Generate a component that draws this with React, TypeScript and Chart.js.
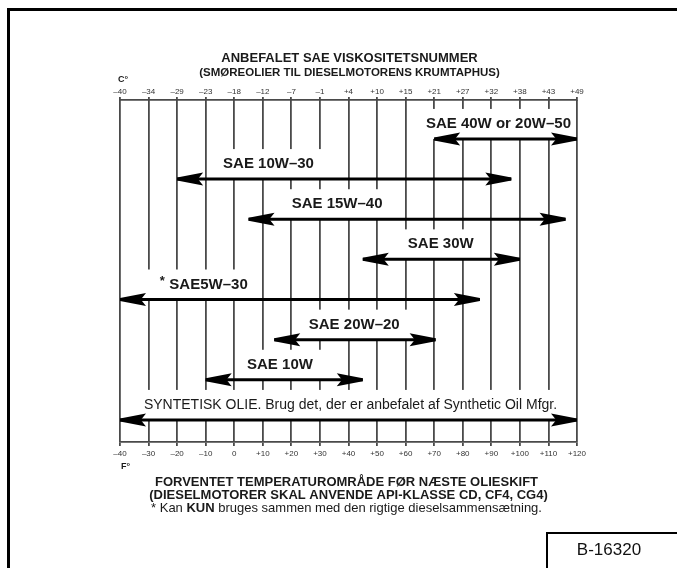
import React, { useEffect, useRef } from "react";
import { Chart, registerables } from "chart.js";

Chart.register(...registerables);

// Tick labels (bottom: °F, top: °C)
const fahrenheitTicks = ["–40", "–30", "–20", "–10", "0", "+10", "+20", "+30", "+40", "+50", "+60", "+70", "+80", "+90", "+100", "+110", "+120"];
const celsiusTicks = ["–40", "–34", "–29", "–23", "–18", "–12", "–7", "–1", "+4", "+10", "+15", "+21", "+27", "+32", "+38", "+43", "+49"];

// Oil grades and their temperature ranges (°F)
const oilNames = [
  "SAE 40W or 20W–50",
  "SAE 10W–30",
  "SAE 15W–40",
  "SAE 30W",
  "* SAE5W–30",
  "SAE 20W–20",
  "SAE 10W",
  "SYNTETISK OLIE. Brug det, der er anbefalet af Synthetic Oil Mfgr.",
];
const rangeFrom = [70, -20, 5, 45, -40, 14, -10, -40];
const rangeTo = [120, 97, 116, 100, 86, 70.5, 45, 120];
// Where each grade's caption is centred (°F)
const labelAt = [92.5, 12, 36, 72.3, -9, 42, 16, 40.7];

const titleLines = ["ANBEFALET SAE VISKOSITETSNUMMER", "(SMØREOLIER TIL DIESELMOTORENS KRUMTAPHUS)"];
const footerLines = ["FORVENTET TEMPERATUROMRÅDE FØR NÆSTE OLIESKIFT", "(DIESELMOTORER SKAL ANVENDE API-KLASSE CD, CF4, CG4)"];
const noteParts = ["* Kan ", "KUN", " bruges sammen med den rigtige dieselsammensætning."];
const figureId = "B-16320";

const FONT = '"Liberation Sans", Arial, sans-serif';

const saePlugin = {
  id: "saeChart",
  beforeDatasetsDraw(chart: any) {
    const { ctx, chartArea: a, scales } = chart;
    const xs = scales.x;
    const ys = scales.y;
    ctx.save();
    oilNames.forEach((name, i) => {
      const synth = i === oilNames.length - 1;
      const starred = name.startsWith("*");
      const text = starred ? name.slice(1).trim() : name;
      ctx.font = synth ? `14px ${FONT}` : `bold 15px ${FONT}`;
      const w = ctx.measureText(text).width;
      const cx = xs.getPixelForValue(labelAt[i]);
      const ay = ys.getPixelForValue(i + 1);
      const cy = ay - 15;
      let l = cx - w / 2 - 12 - (starred ? 10 : 0);
      let r = cx + w / 2 + 10;
      l = Math.max(l, a.left + 2);
      r = Math.min(r, a.right - 2);
      const t = Math.max(cy - 15, a.top + 2);
      ctx.fillStyle = "#fff";
      ctx.fillRect(l, t, r - l, ay - t);
      ctx.fillStyle = "#1a1a1a";
      ctx.textAlign = "center";
      ctx.textBaseline = "middle";
      ctx.fillText(text, cx, cy);
      if (starred) {
        ctx.font = `bold 13px ${FONT}`;
        ctx.fillText("*", cx - w / 2 - 7, cy - 3);
      }
    });
    ctx.restore();
  },
  afterDatasetsDraw(chart: any) {
    const { ctx } = chart;
    ctx.save();
    ctx.fillStyle = "#000";
    const head = (tip: number, y: number, dir: number) => {
      const L = 26;
      const H = 6.5;
      ctx.beginPath();
      ctx.moveTo(tip, y - 1.5);
      ctx.lineTo(tip + dir * L, y - H);
      ctx.lineTo(tip + dir * L * 0.8, y);
      ctx.lineTo(tip + dir * L, y + H);
      ctx.lineTo(tip, y + 1.5);
      ctx.closePath();
      ctx.fill();
    };
    oilNames.forEach((_, i) => {
      const meta = chart.getDatasetMeta(i);
      const p0 = meta.data[0];
      const p1 = meta.data[1];
      head(p0.x, p0.y, 1);
      head(p1.x, p1.y, -1);
    });
    ctx.restore();
  },
  afterDraw(chart: any) {
    const { ctx, chartArea: a } = chart;
    ctx.save();
    // outer frame
    ctx.strokeStyle = "#000";
    ctx.lineWidth = 3;
    ctx.beginPath();
    ctx.moveTo(8.5, 568);
    ctx.lineTo(8.5, 9.5);
    ctx.lineTo(677, 9.5);
    ctx.stroke();
    // figure id box
    ctx.lineWidth = 2;
    ctx.beginPath();
    ctx.moveTo(547, 568);
    ctx.lineTo(547, 533);
    ctx.lineTo(677, 533);
    ctx.stroke();
    ctx.fillStyle = "#111";
    ctx.textAlign = "center";
    ctx.textBaseline = "middle";
    ctx.font = `17px ${FONT}`;
    ctx.fillText(figureId, 609, 550);

    const mid = (a.left + a.right) / 2;
    ctx.fillStyle = "#1a1a1a";
    ctx.font = `bold 13px ${FONT}`;
    ctx.fillText(titleLines[0], mid + 1, 58);
    ctx.font = `bold 11.5px ${FONT}`;
    ctx.fillText(titleLines[1], mid + 1, 73);

    ctx.font = `bold 9px ${FONT}`;
    ctx.textAlign = "left";
    ctx.fillText("C°", a.left - 2, 80);
    ctx.fillText("F°", a.left + 1, 467);

    ctx.textAlign = "center";
    ctx.font = `bold 13px ${FONT}`;
    ctx.fillText(footerLines[0], mid - 2, 482);
    ctx.fillText(footerLines[1], mid, 495);

    // note line with bold "KUN"
    const fonts = [`13px ${FONT}`, `bold 13px ${FONT}`, `13px ${FONT}`];
    let total = 0;
    const widths = noteParts.map((p, k) => {
      ctx.font = fonts[k];
      const w = ctx.measureText(p).width;
      total += w;
      return w;
    });
    let x = mid - 2 - total / 2;
    ctx.textAlign = "left";
    noteParts.forEach((p, k) => {
      ctx.font = fonts[k];
      ctx.fillText(p, x, 508);
      x += widths[k];
    });
    ctx.restore();
  },
};

export default function App() {
  const ref = useRef<HTMLCanvasElement | null>(null);

  useEffect(() => {
    if (!ref.current) return;
    const datasets = oilNames.map((name, i) => ({
      label: name,
      data: [
        { x: rangeFrom[i], y: i + 1 },
        { x: rangeTo[i], y: i + 1 },
      ],
      borderColor: "#000",
      borderWidth: 3,
      pointRadius: 0,
      borderCapStyle: "butt" as const,
      xAxisID: "x",
      yAxisID: "y",
    }));
    const gridColor = "#4a4a4a";
    const chart = new Chart(ref.current, {
      type: "line",
      data: { datasets },
      options: {
        responsive: false,
        animation: false,
        events: [],
        layout: { padding: { left: 120, right: 100, top: 88, bottom: 112 } },
        plugins: { legend: { display: false }, tooltip: { enabled: false }, title: { display: false } },
        scales: {
          x: {
            type: "linear",
            position: "bottom",
            min: -40,
            max: 120,
            afterFit: (s: any) => {
              s.height = 14;
            },
            ticks: {
              stepSize: 10,
              autoSkip: false,
              maxRotation: 0,
              padding: 3,
              color: "#333",
              font: { size: 8, family: FONT },
              callback: (_v: any, idx: number) => fahrenheitTicks[idx],
            },
            grid: { color: gridColor, lineWidth: 1.8, tickLength: 4, drawOnChartArea: true },
            border: { color: gridColor, width: 1.8 },
          },
          xTop: {
            type: "linear",
            position: "top",
            min: -40,
            max: 120,
            afterFit: (s: any) => {
              s.height = 12;
            },
            ticks: {
              stepSize: 10,
              autoSkip: false,
              maxRotation: 0,
              padding: 0,
              color: "#333",
              font: { size: 8, family: FONT },
              callback: (_v: any, idx: number) => celsiusTicks[idx],
            },
            grid: { color: gridColor, lineWidth: 1.8, tickLength: 3, drawOnChartArea: false },
            border: { color: gridColor, width: 1.8 },
          },
          y: {
            type: "linear",
            min: 0.03,
            max: 8.55,
            reverse: true,
            display: false,
          },
        },
      },
      plugins: [saePlugin],
    } as any);
    return () => chart.destroy();
  }, []);

  return (
    <div style={{ position: "absolute", left: 0, top: 0, width: 677, height: 568, background: "#fff" }}>
      <canvas ref={ref} width={677} height={568} style={{ display: "block" }} />
    </div>
  );
}
